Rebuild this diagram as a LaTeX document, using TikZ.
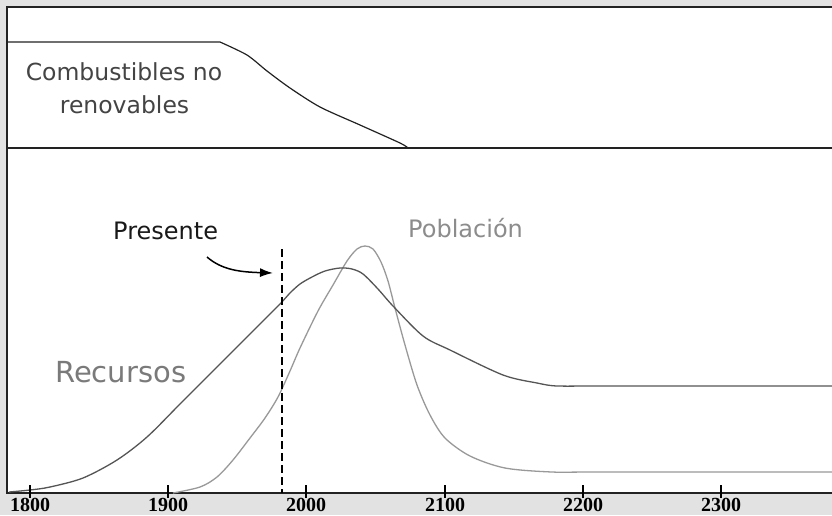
\documentclass[tikz,border=0pt]{standalone}
\usepackage{fontspec}
\setmainfont{DejaVu Sans}
\newfontfamily\numfont{Liberation Serif}
\usetikzlibrary{arrows.meta}
\definecolor{bggray}{HTML}{E2E2E2}
\definecolor{framecol}{HTML}{222222}
\definecolor{rescol}{HTML}{555555}
\definecolor{popcol}{HTML}{999999}
\definecolor{labgray}{HTML}{7A7A7A}
\definecolor{poblab}{HTML}{8C8C8C}
\definecolor{combcol}{HTML}{444444}
\tikzset{
  frameline/.style={draw=framecol, line width=2pt},
  topcurve/.style={draw=framecol, line width=1.2pt},
  rescurve/.style={draw=rescol, line width=1.3pt},
  popcurve/.style={draw=popcol, line width=1.3pt},
  presline/.style={draw=black, line width=1.6pt, dash pattern=on 8pt off 4pt},
  tickmark/.style={draw=black, line width=1.4pt},
  yearlab/.style={anchor=base, inner sep=0pt, font=\numfont\bfseries\fontsize{20}{20}\selectfont},
  biglab/.style={anchor=base west, inner sep=0pt, font=\fontsize{24}{28}\selectfont},
}
\begin{document}
\begin{tikzpicture}[x=1pt,y=-1pt]
\useasboundingbox (0,0) rectangle (832,515);
\fill[bggray] (0,0) rectangle (832,515);
\fill[white] (7,7) rectangle (832,493);
% frame
\draw[frameline] (832,7) -- (7,7) -- (7,493) -- (832,493);
\draw[frameline] (7,148) -- (832,148);
% top panel
\draw[topcurve] (7,42) -- plot[smooth, tension=0.45] coordinates {(220,42) (247,55) (267,71) (290,88) (320,107) (360,125) (400,143) (408,148)};
\node[anchor=base, inner sep=0pt, text=combcol, font=\fontsize{23.5}{28}\selectfont] (comb1) at (124,80) {Combustibles no};
\node[anchor=base, inner sep=0pt, text=combcol, font=\fontsize{23.5}{28}\selectfont] (comb2) at (124.5,113) {renovables};
% curves
\draw[popcurve] plot[smooth, tension=0.5] coordinates {(173,493) (200,487) (217,477) (233,460) (250,438) (265,418) (278,397) (290,371) (300,348) (318,311) (333,285) (347,261) (357,249) (365,246) (373,249) (381,262) (388,281) (395,308) (405,345) (417,385) (430,415) (445,438) (470,456) (505,468) (552,472) (600,472) (832,472)};
\draw[rescurve] plot[smooth, tension=0.5] coordinates {(9,492) (30,490) (50,487) (83,478) (117,460) (147,437) (180,404) (220,364) (257,327) (280,304) (290,293) (300,284) (312,277) (325,271) (340,268) (352,269) (363,274) (378,289) (393,306) (423,336) (450,350) (503,375) (537,383) (557,386) (600,386) (832,386)};
% presente
\draw[presline] (282,249) -- (282,493);
\node[biglab, text=black!90] (pres) at (113,239) {Presente};
\coordinate (arrS) at (207,257);
\coordinate (arrE) at (273,273);
\draw[black, line width=1.5pt, -{Latex[length=13pt,width=9pt]}] (arrS) .. controls (222,270) and (240,272) .. (arrE);
\node[biglab, text=poblab] (pob) at (408,237) {Población};
\node[biglab, text=labgray, font=\fontsize{29}{34}\selectfont] (rec) at (55,382) {Recursos};
% ticks and years
\foreach \xx/\yr in {30/1800,168/1900,306/2000,445/2100,583/2200,721/2300}{
  \draw[tickmark] (\xx,485) -- (\xx,498);
  \node[yearlab] (y\yr) at (\xx,511) {\yr};
}
\end{tikzpicture}
\end{document}
